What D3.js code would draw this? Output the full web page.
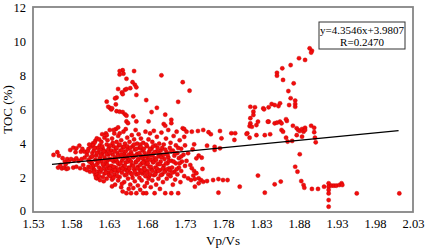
<!DOCTYPE html>
<html>
<head>
<meta charset="utf-8">
<script src="https://cdn.jsdelivr.net/npm/d3@7"></script>
<style>
  html, body { margin: 0; padding: 0; background: #ffffff; }
  text { font-family: "Liberation Serif", "Times New Roman", serif; fill: #000; }
</style>
</head>
<body>
<div id="chart"></div>
<script>
/**
 * Data (Vp/Vs, TOC %)
 */
const mainCluster = [
  [1.557,3.34],[1.562,3.5],[1.564,3.3],[1.563,2.6],[1.568,2.55],[1.571,2.6],[1.574,2.52],[1.576,2.55],
  [1.566,2.75],[1.572,2.95],[1.575,3.1],[1.569,3.15],[1.573,2.8],
  [1.577,2.95],[1.580,3.1],[1.584,3.04],[1.587,3.14],[1.590,2.99],[1.594,3.1],[1.598,3.18],[1.579,3.63],
  [1.583,3.76],[1.587,3.73],[1.591,3.88],[1.586,3.5],[1.593,3.53],[1.595,3.69],[1.598,3.53],[1.601,3.34],
  [1.603,3.69],[1.606,3.82],[1.609,4.02],[1.612,4.16],[1.614,4.31],[1.583,2.6],[1.587,2.65],[1.592,2.56],
  [1.596,2.75],[1.598,2.52],[1.603,2.65],[1.605,2.36],[1.607,2.85],[1.603,3.04],[1.609,2.56],[1.612,2.17],
  [1.616,2.36],[1.614,1.97],[1.618,1.87],
  [1.606,3.2],[1.607,2.9],[1.608,3.45],[1.609,2.7],[1.610,3.6],[1.611,2.45],[1.612,3.05],[1.613,3.3],
  [1.614,2.2],[1.615,3.75],[1.615,2.85],[1.616,3.5],[1.617,2.6],[1.618,3.9],[1.618,3.15],[1.619,2.35],
  [1.620,4.1],[1.620,2.95],[1.621,3.4],[1.622,2.05],[1.622,3.7],[1.623,2.7],[1.624,4.35],[1.624,3.2],
  [1.625,2.5],[1.625,3.55],[1.626,2.85],[1.627,3.95],[1.627,1.95],[1.628,3.0],[1.628,4.2],[1.629,2.3],
  [1.629,3.35],[1.630,2.6],[1.630,3.8],[1.611,4.05],[1.617,4.25],[1.621,4.55],[1.613,2.0],[1.623,1.8],
  [1.626,4.6],[1.609,3.9],[1.619,3.65],[1.624,2.25],[1.628,2.55],
  [1.601,2.45],[1.602,3.55],[1.604,2.95],[1.604,3.95],[1.606,2.6],[1.608,3.25],[1.610,2.35],[1.611,3.75],
  [1.613,2.75],[1.614,3.45],[1.616,3.0],[1.617,2.1],[1.619,3.3],[1.620,2.5],[1.621,3.85],[1.622,2.8],
  [1.623,3.55],[1.625,3.05],[1.626,2.3],[1.627,3.4],[1.628,2.75],[1.629,3.65],[1.630,3.1],[1.630,2.15],
  [1.631,4.8],[1.632,2.1],[1.632,3.1],[1.633,3.6],[1.633,2.7],[1.634,4.3],[1.634,1.9],[1.635,3.35],
  [1.635,2.45],[1.636,3.85],[1.636,2.95],[1.637,4.6],[1.637,2.2],[1.638,3.2],[1.638,1.6],[1.639,3.7],
  [1.639,2.6],[1.640,4.1],[1.640,3.0],[1.641,2.35],[1.641,3.45],[1.642,1.85],[1.642,4.45],[1.643,2.8],
  [1.643,3.9],[1.644,3.25],[1.644,2.05],[1.645,3.6],[1.645,2.55],[1.646,4.2],[1.646,1.45],[1.647,3.0],
  [1.647,2.3],[1.648,3.8],[1.648,1.2],[1.649,2.7],[1.649,4.7],[1.650,3.4],[1.650,1.75],[1.651,2.15],
  [1.651,4.0],[1.652,2.9],[1.652,3.55],[1.653,1.1],[1.653,2.45],[1.654,3.15],[1.654,4.35],[1.655,1.95],
  [1.655,3.7],[1.656,2.6],[1.656,1.35],[1.634,1.5],[1.639,4.85],[1.644,4.6],[1.647,1.65],[1.652,4.85],
  [1.636,2.0],[1.641,2.9],[1.650,2.5],[1.655,2.95],
  [1.631,2.55],[1.631,3.45],[1.632,3.9],[1.633,2.35],[1.634,3.05],[1.635,4.05],[1.636,2.65],[1.637,3.55],
  [1.638,2.45],[1.639,3.1],[1.640,3.75],[1.641,2.1],[1.642,3.3],[1.643,2.45],[1.644,3.95],[1.645,2.85],
  [1.646,3.35],[1.647,3.6],[1.648,2.55],[1.649,3.15],[1.650,3.8],[1.651,2.7],[1.652,3.25],[1.653,2.2],
  [1.654,3.85],[1.655,2.4],[1.656,3.35],
  [1.657,3.05],[1.657,4.1],[1.658,2.3],[1.658,1.6],[1.659,3.5],[1.659,1.1],[1.660,2.75],[1.660,4.5],
  [1.661,3.85],[1.661,2.0],[1.662,3.2],[1.662,1.4],[1.663,2.5],[1.663,4.25],[1.664,3.65],[1.664,1.8],
  [1.665,2.9],[1.665,4.8],[1.666,1.1],[1.666,2.2],[1.667,3.4],[1.667,4.0],[1.668,2.65],[1.668,1.55],
  [1.669,3.1],[1.669,4.55],[1.670,2.0],[1.670,3.75],[1.671,2.45],[1.671,1.3],[1.672,3.3],[1.672,4.3],
  [1.673,2.85],[1.673,1.85],[1.674,3.6],[1.674,2.25],[1.675,1.1],[1.675,4.05],[1.676,2.6],[1.676,3.0],
  [1.677,1.5],[1.677,3.45],[1.678,4.7],[1.678,2.1],[1.679,1.1],[1.679,2.8],[1.680,3.85],[1.680,1.7],
  [1.681,3.2],[1.681,2.4],[1.682,4.25],[1.682,1.95],[1.683,3.55],[1.683,2.65],[1.660,3.35],[1.666,2.95],
  [1.671,3.95],[1.676,2.35],[1.680,3.0],
  [1.657,2.55],[1.658,3.75],[1.659,2.95],[1.660,2.2],[1.661,3.25],[1.662,2.7],[1.663,3.95],[1.664,2.35],
  [1.665,3.3],[1.666,3.7],[1.667,2.55],[1.668,3.05],[1.669,2.25],[1.670,3.45],[1.671,2.75],[1.672,3.8],
  [1.673,2.4],[1.674,3.15],[1.675,2.9],[1.676,3.7],[1.677,2.5],[1.678,3.25],[1.679,3.95],[1.680,2.3],
  [1.681,2.85],[1.682,3.4],[1.683,2.1],
  [1.684,4.6],[1.684,2.2],[1.685,3.05],[1.685,1.45],[1.686,3.7],[1.686,2.5],[1.687,4.1],[1.687,1.85],
  [1.688,2.9],[1.688,3.4],[1.689,2.15],[1.689,4.75],[1.690,1.1],[1.690,3.15],[1.691,2.6],[1.691,3.9],
  [1.692,1.6],[1.692,2.35],[1.693,3.55],[1.693,4.4],[1.694,2.8],[1.695,1.95],[1.695,3.25],[1.696,4.0],
  [1.697,2.45],[1.697,1.35],[1.698,3.6],[1.698,2.95],[1.699,4.65],[1.700,2.2],[1.700,3.35],[1.701,1.75],
  [1.702,2.7],[1.702,3.95],[1.703,3.1],[1.704,1.1],[1.704,2.4],[1.705,4.3],[1.706,3.5],[1.706,1.95],
  [1.707,2.85],[1.708,4.8],[1.708,3.2],[1.709,2.55],[1.710,3.75],
  [1.684,3.7],[1.685,2.65],[1.686,3.3],[1.687,2.4],[1.688,3.85],[1.689,2.95],[1.690,3.5],[1.691,2.2],
  [1.692,3.05],[1.693,2.55],[1.694,3.75],[1.695,2.4],[1.696,3.4],[1.697,2.8],[1.698,2.15],[1.699,3.2],
  [1.700,3.75],[1.701,2.55],[1.702,3.35],[1.703,2.35],[1.704,3.65],[1.705,2.85],[1.706,2.5],[1.707,3.35],
  [1.708,2.2],[1.709,3.0],[1.710,2.45],
  [1.711,2.1],[1.711,4.05],[1.712,1.1],[1.712,3.0],[1.713,2.6],[1.714,3.6],[1.714,1.6],[1.715,4.45],
  [1.716,2.35],[1.716,3.3],[1.717,1.9],[1.718,2.85],[1.718,3.9],[1.719,4.7],[1.720,2.2],[1.720,3.45],
  [1.721,1.1],[1.722,2.6],[1.722,3.15],[1.723,4.2],[1.724,1.75],[1.725,3.7],[1.725,2.4],[1.726,2.95],
  [1.727,4.9],[1.728,3.35],[1.729,2.1],[1.729,4.4],[1.730,3.9],[1.730,2.7],
  [1.712,3.55],[1.713,2.3],[1.715,2.95],[1.717,3.45],[1.719,2.5],[1.721,3.75],[1.723,2.85],[1.725,3.25]
];

const upperBranch = [
  [1.648,8.3],[1.644,8.25],[1.649,8.1],[1.644,8.05],[1.663,8.25],[1.653,7.8],[1.661,7.6],[1.664,7.45],
  [1.666,7.3],[1.642,7.2],[1.651,7.15],[1.653,7.2],[1.658,7.25],[1.647,7.0],[1.648,6.9],[1.640,6.7],
  [1.638,6.65],[1.666,6.85],[1.679,6.55],[1.699,8.0],[1.727,7.6],[1.736,7.1],[1.721,6.45],[1.693,6.1],
  [1.686,5.85],[1.704,5.7],[1.712,5.4],[1.712,5.2],[1.702,5.15],[1.704,5.05],[1.631,6.1],[1.633,6.0],
  [1.639,6.3],[1.640,5.9],[1.644,5.87],[1.648,5.85],[1.651,5.72],[1.653,5.64],[1.653,5.3],[1.655,5.2],
  [1.662,5.6],[1.666,5.3],[1.682,5.3],[1.642,4.95],[1.729,4.85],[1.636,4.8],[1.627,4.5],
  [1.627,6.46],[1.629,6.16],[1.634,6.07]
];

const midScatter = [
  [1.732,4.7],[1.739,4.7],[1.747,4.74],[1.754,4.8],[1.761,4.67],[1.764,4.55],[1.776,4.74],[1.778,4.31],
  [1.791,4.61],[1.796,4.61],[1.795,4.22],[1.812,4.61],[1.815,4.35],[1.824,4.5],[1.835,4.5],[1.811,4.57],
  [1.742,3.96],[1.759,3.88],[1.769,3.82],[1.776,3.73],[1.769,3.63],[1.740,3.67],
  [1.734,3.44],[1.748,3.3],[1.752,3.18],[1.745,3.14],
  [1.732,2.99],[1.737,2.75],[1.739,2.56],[1.742,2.4],[1.753,2.52],[1.745,2.27],[1.741,2.13],[1.734,1.97],
  [1.738,1.87],[1.743,1.93],[1.748,1.97],[1.751,1.87],[1.748,1.68],[1.754,1.77],[1.759,1.81],[1.743,1.48],
  [1.767,1.87],[1.774,1.93],[1.780,1.87],[1.786,1.87],
  [1.826,2.13],[1.802,1.48],[1.774,1.13],[1.835,1.13]
];

const rightBranch = [
  [1.816,6.16],[1.822,6.13],[1.820,5.87],[1.820,5.68],[1.833,6.07],[1.840,6.13],[1.844,6.32],[1.848,6.26],
  [1.853,6.2],[1.834,6.01],[1.855,6.36],
  [1.816,5.49],[1.816,5.19],[1.815,5.03],[1.818,4.99],[1.824,5.09],[1.826,5.29],[1.840,5.29],[1.848,5.19],
  [1.851,5.23],[1.839,5.29],[1.855,5.29],[1.857,5.19],[1.864,5.33],[1.863,5.43],
  [1.894,9.58],[1.897,9.44],[1.896,9.33],[1.880,9.0],[1.888,8.9],[1.869,8.6],[1.858,8.41],[1.851,8.15],
  [1.851,7.98],[1.859,7.73],[1.873,7.53],[1.866,7.08],[1.869,6.66],[1.875,6.52],[1.875,6.32],[1.875,6.16],
  [1.867,6.26],
  [1.857,4.8],[1.859,4.7],[1.842,4.55],
  [1.872,5.05],[1.877,4.9],[1.879,4.8],[1.881,4.74],[1.884,4.86],[1.886,4.7],[1.888,4.93],[1.888,4.8],
  [1.896,5.05],[1.900,4.93],[1.900,4.67],[1.901,4.35],[1.902,4.08],
  [1.877,4.5],[1.884,4.41],[1.863,4.35],[1.865,4.12],[1.871,4.16],
  [1.881,3.38],[1.875,2.65],[1.878,2.36],[1.856,1.78],[1.848,1.62],
  [1.883,1.81],[1.886,1.58],[1.887,1.42],[1.897,1.35],[1.905,1.35],[1.913,1.48],
  [1.919,1.68],[1.919,1.48],[1.919,1.29],[1.919,1.09],[1.919,0.70],[1.919,0.31],
  [1.923,1.54],[1.926,1.54],[1.929,1.54],[1.933,1.58],[1.936,1.68],[1.937,1.58],
  [1.956,1.09],[2.012,1.09]
];

// linear fit, drawn between its end points
const fitX = [1.555, 2.011];
const fitY = [2.79, 4.76];
const fitLabel = ["y=4.3546x+3.9807", "R=0.2470"];

const xTicks = [1.53, 1.58, 1.63, 1.68, 1.73, 1.78, 1.83, 1.88, 1.93, 1.98, 2.03];
const yTicks = [0, 2, 4, 6, 8, 10, 12];

/**
 * Basic settings
 */
const canvasWidth = 425;
const canvasHeight = 250;
const plot = { left: 33, right: 413, top: 7, bottom: 212 };

const svg = d3.select("#chart")
  .append("svg")
  .attr("width", canvasWidth)
  .attr("height", canvasHeight)
  .style("display", "block");

/**
 * Scales
 */
const xScale = d3.scaleLinear()
  .domain([1.53, 2.03])
  .range([plot.left, plot.right]);

const yScale = d3.scaleLinear()
  .domain([0, 12])
  .range([plot.bottom, plot.top]);

/**
 * Points
 */
const allPoints = mainCluster.concat(upperBranch, midScatter, rightBranch);

svg.append("g")
  .selectAll("circle")
  .data(allPoints)
  .enter()
  .append("circle")
  .attr("cx", d => xScale(d[0]))
  .attr("cy", d => yScale(d[1]))
  .attr("r", 2.1)
  .attr("fill", "#f20d0d")
  .attr("stroke", "#c80000")
  .attr("stroke-width", 0.4);

/**
 * Fit line
 */
const fitLine = d3.line()
  .x(d => xScale(d[0]))
  .y(d => yScale(d[1]));

svg.append("path")
  .datum(fitX.map((x, i) => [x, fitY[i]]))
  .attr("d", fitLine)
  .attr("fill", "none")
  .attr("stroke", "#000")
  .attr("stroke-width", 1.3);

/**
 * Frame
 */
svg.append("rect")
  .attr("x", plot.left)
  .attr("y", plot.top)
  .attr("width", plot.right - plot.left)
  .attr("height", plot.bottom - plot.top)
  .attr("fill", "none")
  .attr("stroke", "#858585")
  .attr("stroke-width", 1.8);

/**
 * Axes
 */
const xAxis = d3.axisBottom(xScale)
  .tickValues(xTicks)
  .tickSize(0)
  .tickPadding(7)
  .tickFormat(d3.format(".2f"));

const gx = svg.append("g")
  .attr("transform", "translate(0," + plot.bottom + ")")
  .call(xAxis);
gx.select(".domain").remove();
gx.selectAll("text")
  .style("font-family", "'Liberation Serif', serif")
  .style("font-size", "12.5px")
  .attr("fill", "#000");

const yAxis = d3.axisLeft(yScale)
  .tickValues(yTicks)
  .tickSize(0)
  .tickPadding(7);

const gy = svg.append("g")
  .attr("transform", "translate(" + plot.left + ",0)")
  .call(yAxis);
gy.select(".domain").remove();
gy.selectAll("text")
  .style("font-family", "'Liberation Serif', serif")
  .style("font-size", "12.5px")
  .attr("fill", "#000")
  .attr("dy", d => d === 0 ? "0.2em" : "0.32em");

svg.append("text")
  .attr("x", (plot.left + plot.right) / 2)
  .attr("y", 245)
  .attr("text-anchor", "middle")
  .style("font-size", "13px")
  .text("Vp/Vs");

svg.append("text")
  .attr("transform", "translate(12," + ((plot.top + plot.bottom) / 2) + ") rotate(-90)")
  .attr("text-anchor", "middle")
  .style("font-size", "13px")
  .text("TOC (%)");

/**
 * Fit label box
 */
const box = svg.append("g").attr("transform", "translate(319,22)");
box.append("rect")
  .attr("width", 86)
  .attr("height", 27)
  .attr("fill", "#fff")
  .attr("stroke", "#333")
  .attr("stroke-width", 1);
box.selectAll("text")
  .data(fitLabel)
  .enter()
  .append("text")
  .attr("x", 43)
  .attr("y", (d, i) => 12 + i * 11.5)
  .attr("text-anchor", "middle")
  .style("font-size", "11px")
  .text(d => d);
</script>
</body>
</html>
